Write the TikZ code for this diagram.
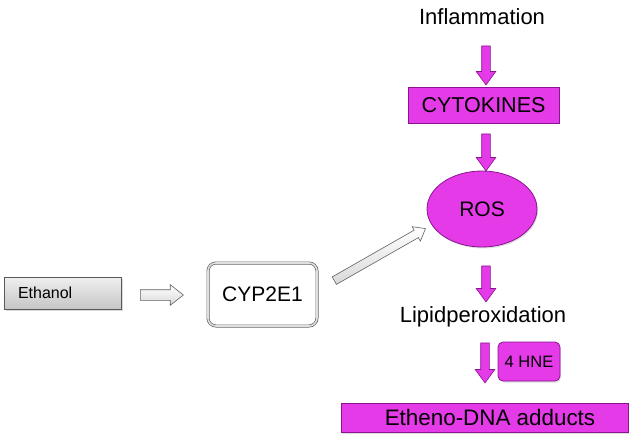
\documentclass[tikz,border=0pt]{standalone}
\usepackage{fontspec}
\setmainfont{Liberation Sans}
\usetikzlibrary{shapes.geometric,shapes.arrows,shadows}
\definecolor{mag}{RGB}{228,58,232}
\definecolor{magdark}{RGB}{140,20,145}
\tikzset{
  plain/.style={inner sep=0pt, font=\fontsize{22}{26}\selectfont},
  magbox/.style={draw=magdark, line width=0.8pt, fill=mag, inner sep=0pt,
    drop shadow={opacity=0.25, shadow xshift=1pt, shadow yshift=-1.5pt}},
  magarrow/.style={single arrow, draw=magdark, line width=0.6pt, fill=mag,
    inner xsep=0pt, inner ysep=4pt, single arrow head extend=5.5pt,
    single arrow tip angle=72, rotate=-90},
  grayarrow/.style={single arrow, draw=gray!75!black, line width=0.6pt,
    top color=white, bottom color=gray!30, inner xsep=0pt,
    single arrow tip angle=76},
  graybox/.style={draw=gray!70!black, line width=0.6pt, top color=gray!12, bottom color=gray!45,
    inner ysep=0pt, drop shadow={opacity=0.3, shadow xshift=1.5pt, shadow yshift=-1.5pt}},
  cypbox/.style={draw=gray!80!black, line width=0.7pt, rounded corners=8pt,
    double=gray!25, double distance=1.6pt, fill=white, inner sep=0pt}
}
\begin{document}
\begin{tikzpicture}[x=1pt,y=-1pt]
\useasboundingbox (0,0) rectangle (636,446);
% text nodes
\node[plain] (infl) at (482,17) {Inflammation};
\node[plain] (lipid) at (483,317) {Lipidperoxidation};
% magenta boxes
\node[magbox, minimum width=151pt, minimum height=36pt,
  font=\fontsize{21.5}{25}\selectfont] (cyto) at (483.5,105) {CYTOKINES};
\node[magbox, ellipse, minimum width=110pt, minimum height=76pt,
  font=\fontsize{21}{25}\selectfont] (ros) at (482,209) {ROS};
\node[magbox, rounded corners=5pt, minimum width=62pt, minimum height=39pt,
  font=\fontsize{16.5}{20}\selectfont] (hne) at (529,361.5) {4 HNE};
\node[magbox, minimum width=287pt, minimum height=29pt,
  font=\fontsize{22.4}{26}\selectfont, text height=16pt, text depth=0pt] (dna) at (484.5,417.5) {\hspace{11pt}Etheno-DNA adducts};
% gray boxes
\node[graybox, minimum height=32pt, text width=89pt, inner xsep=14pt, align=left,
  font=\fontsize{16}{19}\selectfont] (eth) at (62.5,293) {Ethanol};
\node[cypbox, minimum width=109pt, minimum height=63pt,
  font=\fontsize{21}{25}\selectfont] (cyp) at (262.5,294.5) {CYP2E1};
% magenta block arrows
\node[magarrow, minimum height=39pt] (a1) at (486,62.5) {};
\node[magarrow, minimum height=37pt] (a2) at (486,149.5) {};
\node[magarrow, minimum height=36pt] (a3) at (486,281) {};
\node[magarrow, minimum height=40pt] (a4) at (485,360) {};
% gray hollow arrows
\node[grayarrow, minimum height=43pt, inner ysep=5pt, single arrow head extend=5pt,
  shading angle=0] (g1) at (158.5,295) {};
\node[grayarrow, minimum height=105pt, inner ysep=4pt, single arrow head extend=4pt,
  rotate=29.7] (g2) at (377.5,256) {};
\end{tikzpicture}
\end{document}
